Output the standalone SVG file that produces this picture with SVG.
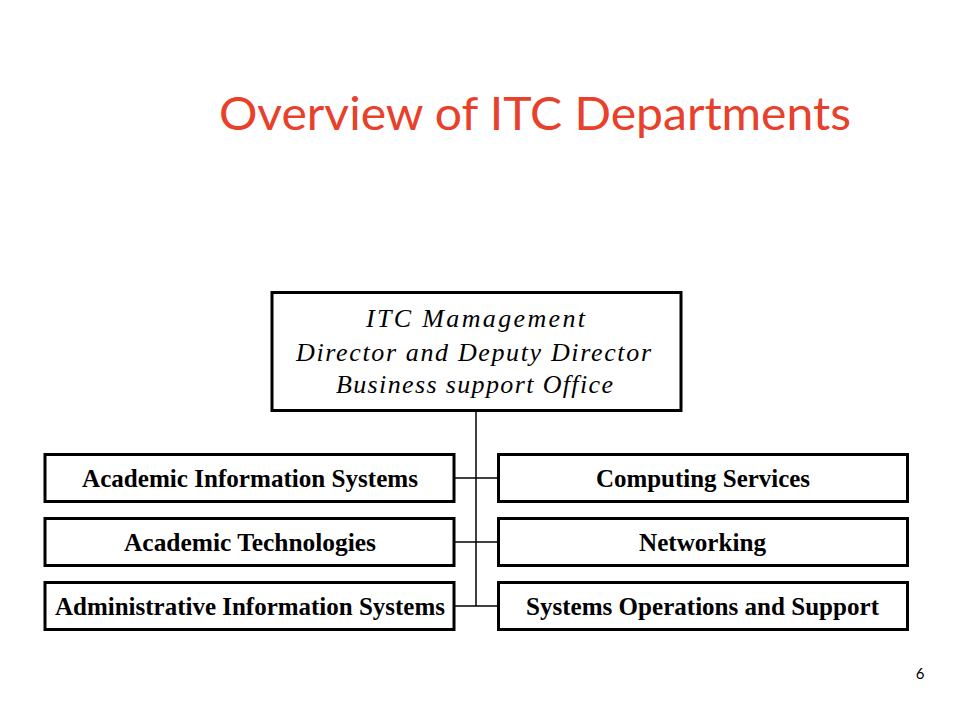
<svg xmlns="http://www.w3.org/2000/svg" width="960" height="720" viewBox="0 0 960 720">
<style>
.box{fill:#fff;stroke:#000;stroke-width:3}
.lbl{font-family:"Liberation Serif",serif;font-weight:bold;font-size:25px;text-anchor:middle;fill:#000}
.top{font-family:"Liberation Serif",serif;font-style:italic;font-size:26px;text-anchor:middle;fill:#000}
.conn{stroke:#000;stroke-width:1.5;fill:none}
</style>
<rect width="960" height="720" fill="#fff"/>
<text x="535" y="130" font-family="Lato, 'Open Sans', sans-serif" font-size="46" fill="#e8402a" text-anchor="middle" textLength="632" lengthAdjust="spacingAndGlyphs">Overview of ITC Departments</text>
<g id="connectors">
<path class="conn" d="M476 410 V606"/>
<path class="conn" d="M454 478 H498 M454 542 H498 M454 606 H498"/>
</g>
<g id="mgmt">
<rect class="box" x="272" y="292.5" width="409" height="118"/>
<text class="top" x="475.5" y="327" textLength="219" lengthAdjust="spacing">ITC Mamagement</text>
<text class="top" x="473.5" y="360.5" textLength="355" lengthAdjust="spacing">Director and  Deputy Director</text>
<text class="top" x="474.5" y="393" textLength="277" lengthAdjust="spacing">Business support Office</text>
</g>
<g id="ais">
<rect class="box" x="45" y="454.5" width="409" height="47"/>
<text class="lbl" x="250" y="486.5" textLength="336" lengthAdjust="spacingAndGlyphs">Academic Information Systems</text>
</g>
<g id="at">
<rect class="box" x="45" y="518.5" width="409" height="47"/>
<text class="lbl" x="250" y="550.5" textLength="252" lengthAdjust="spacingAndGlyphs">Academic Technologies</text>
</g>
<g id="adis">
<rect class="box" x="45" y="582.5" width="409" height="47"/>
<text class="lbl" x="250" y="614.5" textLength="390" lengthAdjust="spacingAndGlyphs">Administrative Information Systems</text>
</g>
<g id="cs">
<rect class="box" x="498.5" y="454.5" width="409" height="47"/>
<text class="lbl" x="703" y="486.5" textLength="214" lengthAdjust="spacingAndGlyphs">Computing Services</text>
</g>
<g id="net">
<rect class="box" x="498.5" y="518.5" width="409" height="47"/>
<text class="lbl" x="702.5" y="550.5" textLength="127" lengthAdjust="spacingAndGlyphs">Networking</text>
</g>
<g id="sos">
<rect class="box" x="498.5" y="582.5" width="409" height="47"/>
<text class="lbl" x="702.5" y="614.5" textLength="353" lengthAdjust="spacingAndGlyphs">Systems Operations and Support</text>
</g>
<text x="920" y="679" font-family="Lato, sans-serif" font-size="15" text-anchor="middle" fill="#000">6</text>
</svg>
